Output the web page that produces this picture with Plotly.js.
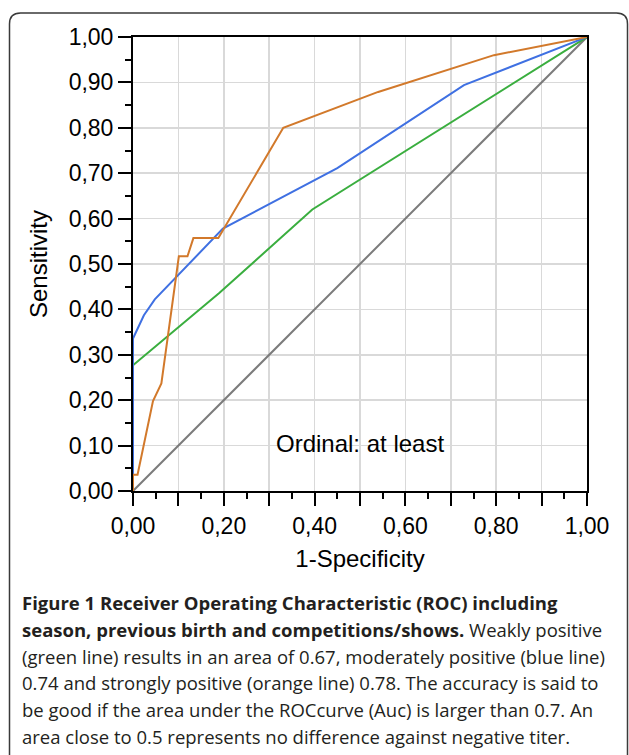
<!DOCTYPE html>
<html>
<head>
<meta charset="utf-8">
<script src="https://cdn.plot.ly/plotly-3.0.1.min.js"></script>
<style>
html,body{margin:0;padding:0;background:#fff;}
#chart{width:629px;height:755px;}
</style>
</head>
<body>
<div id="chart"></div>
<script>
// ---- data ----
const refX = [0, 1];
const refY = [0, 1];

const weakX = [0, 0, 0.19, 0.395, 1];
const weakY = [0, 0.277, 0.436, 0.62, 1];

const moderateX = [0, 0, 0.024, 0.048, 0.198, 0.45, 0.729, 1];
const moderateY = [0, 0.336, 0.387, 0.422, 0.578, 0.711, 0.894, 1];

const strongX = [0, 0, 0.01, 0.044, 0.0625, 0.101, 0.12, 0.133, 0.188, 0.331, 0.54, 0.795, 1];
const strongY = [0, 0.036, 0.036, 0.198, 0.237, 0.517, 0.517, 0.557, 0.557, 0.80, 0.879, 0.96, 1];

const tickVals = [0, 0.1, 0.2, 0.3, 0.4, 0.5, 0.6, 0.7, 0.8, 0.9, 1.0];
const yTickText = ['0,00','0,10','0,20','0,30','0,40','0,50','0,60','0,70','0,80','0,90','1,00'];
const xTickText = ['0,00','','0,20','','0,40','','0,60','','0,80','','1,00'];

const xTitle = '1-Specificity';
const yTitle = 'Sensitivity';
const insetLabel = 'Ordinal: at least';

const captionLines = [
  '<b>Figure 1 Receiver Operating Characteristic (ROC) including</b>',
  '<b>season, previous birth and competitions/shows.</b> Weakly positive',
  '(green line) results in an area of 0.67, moderately positive (blue line)',
  '0.74 and strongly positive (orange line) 0.78. The accuracy is said to',
  'be good if the area under the ROCcurve (Auc) is larger than 0.7. An',
  'area close to 0.5 represents no difference against negative titer.'
];

// ---- layout geometry ----
const W = 629, H = 755;
const L = 133, R = 42, T = 37, B = 264;
const PW = W - L - R, PH = H - T - B;
function px(x){ return (x - L) / PW; }
function py(y){ return (H - B - y) / PH; }

const fx0 = px(9.5), fx1 = px(627.5), fy0 = py(13), fyb = py(775);
const rx = 11 / PW, ry = 11 / PH;
const framePath = 'M ' + fx0 + ',' + fyb +
  ' L ' + fx0 + ',' + (fy0 - ry) +
  ' Q ' + fx0 + ',' + fy0 + ' ' + (fx0 + rx) + ',' + fy0 +
  ' L ' + (fx1 - rx) + ',' + fy0 +
  ' Q ' + fx1 + ',' + fy0 + ' ' + fx1 + ',' + (fy0 - ry) +
  ' L ' + fx1 + ',' + fyb;

const font = 'Liberation Sans, Arial, sans-serif';
const capFont = 'Open Sans, sans-serif';

const traces = [
  {x: refX, y: refY, mode: 'lines', line: {color: '#7b7b7b', width: 2}, hoverinfo: 'skip'},
  {x: weakX, y: weakY, mode: 'lines', line: {color: '#3aae3f', width: 2}, name: 'weakly positive'},
  {x: moderateX, y: moderateY, mode: 'lines', line: {color: '#3f70e2', width: 2}, name: 'moderately positive'},
  {x: strongX, y: strongY, mode: 'lines', line: {color: '#d2792b', width: 2}, name: 'strongly positive'}
];

const captionBase = [608, 635, 662, 688, 715, 742];
const annotations = captionLines.map((t, i) => ({
  text: t, xref: 'paper', yref: 'paper', x: px(20), y: py(captionBase[i] - 6),
  xanchor: 'left', yanchor: 'middle', showarrow: false, align: 'left',
  font: {family: capFont, size: 18.5, color: '#231f20'}
}));
annotations.push({
  text: insetLabel, xref: 'paper', yref: 'paper', x: px(359.5), y: py(443),
  xanchor: 'center', yanchor: 'middle', showarrow: false,
  font: {family: font, size: 24, color: '#000'}
});

const axisCommon = {
  range: [0, 1], autorange: false, fixedrange: true,
  tickmode: 'array', tickvals: tickVals,
  ticks: 'outside', ticklen: 13, tickwidth: 2, tickcolor: '#000',
  showline: true, linecolor: '#000', linewidth: 2, mirror: true,
  showgrid: true, gridcolor: '#d9d9d9', gridwidth: 1.5,
  zeroline: false, layer: 'below traces',
  tickfont: {family: font, size: 23, color: '#000'},
  minor: {dtick: 0.05, ticks: 'outside', ticklen: 6, tickwidth: 2, tickcolor: '#000', showgrid: false}
};

const layout = {
  width: W, height: H,
  margin: {l: L, r: R, t: T, b: B, pad: 0},
  paper_bgcolor: '#fff', plot_bgcolor: '#fff',
  showlegend: false,
  xaxis: Object.assign({}, axisCommon, {
    ticktext: xTickText,
    title: {text: xTitle, font: {family: font, size: 24, color: '#000'}, standoff: 13}
  }),
  yaxis: Object.assign({}, axisCommon, {
    ticktext: yTickText,
    title: {text: yTitle, font: {family: font, size: 24, color: '#000'}, standoff: 14}
  }),
  annotations: annotations,
  shapes: [{type: 'path', xref: 'paper', yref: 'paper', path: framePath,
    line: {color: '#3a3a3a', width: 1.5}, layer: 'below'}]
};

Plotly.newPlot('chart', traces, layout, {displayModeBar: false, staticPlot: true});
</script>
</body>
</html>
